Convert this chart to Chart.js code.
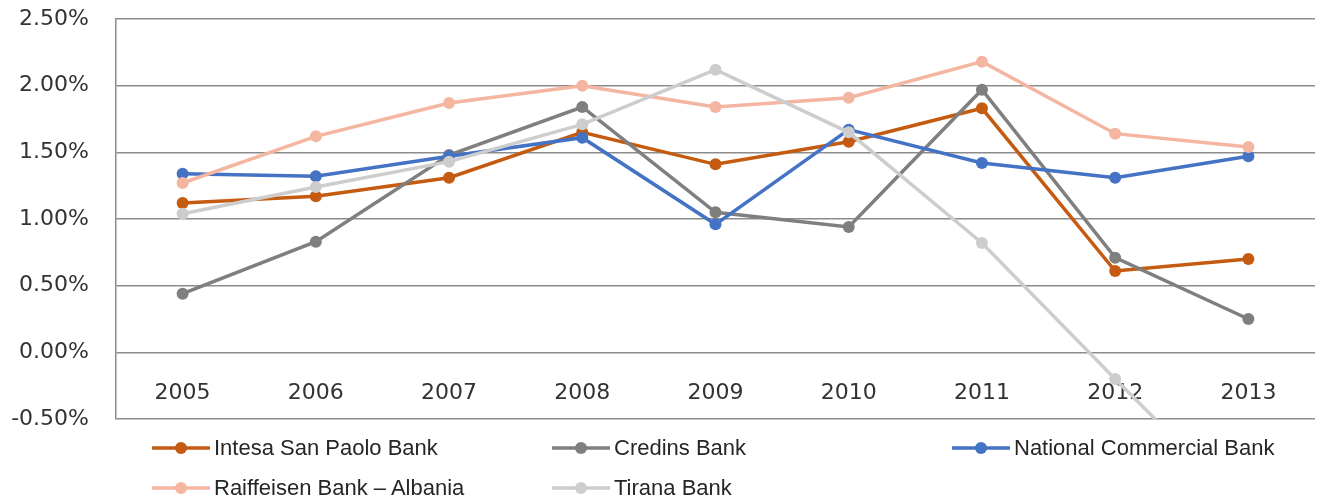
<!DOCTYPE html>
<html>
<head>
<meta charset="utf-8">
<script src="https://cdn.jsdelivr.net/npm/chart.js@4"></script>
<style>
  body { margin: 0; background: #fff; }
  #wrap { position: relative; width: 1323px; height: 502px; }
  #legend { position: absolute; left: 0; top: 0; width: 1323px; height: 502px; pointer-events: none; }
  .item { position: absolute; display: flex; align-items: center; height: 30px;
          font-family: "Liberation Sans", Arial, sans-serif;
          font-size: 22px; color: #262626; white-space: nowrap; }
  .item canvas { margin-right: 4px; }
</style>
</head>
<body>
<div id="wrap">
  <canvas id="bankChart" width="1323" height="432"></canvas>
  <div id="legend"></div>
</div>
<script>
// Return on assets by bank, 2005-2013 (%)
const years = ['2005', '2006', '2007', '2008', '2009', '2010', '2011', '2012', '2013'];
const bankNames = ['Intesa San Paolo Bank', 'Credins Bank', 'National Commercial Bank', 'Raiffeisen Bank \u2013 Albania', 'Tirana Bank'];
const intesa     = [1.12, 1.17, 1.31, 1.65, 1.41, 1.58, 1.83, 0.61, 0.70];
const credins    = [0.44, 0.83, 1.48, 1.84, 1.05, 0.94, 1.97, 0.71, 0.25];
const national   = [1.34, 1.32, 1.47, 1.61, 0.96, 1.67, 1.42, 1.31, 1.47];
const raiffeisen = [1.27, 1.62, 1.87, 2.00, 1.84, 1.91, 2.18, 1.64, 1.54];
const tirana     = [1.04, 1.24, 1.43, 1.71, 2.12, 1.65, 0.82, -0.20, -1.20];
const bankColors = ['#C55A11', '#7F7F7F', '#4472C4', '#F4B6A0', '#CDCDCD'];
const yTicks = { min: -0.5, max: 2.5, step: 0.5 };

const seriesValues = [intesa, credins, national, raiffeisen, tirana];

document.addEventListener('DOMContentLoaded', function() {
    const ctx = document.getElementById('bankChart').getContext('2d');

    const datasets = bankNames.map(function(name, i) {
        return {
            label: name,
            data: seriesValues[i],
            borderColor: bankColors[i],
            backgroundColor: bankColors[i],
            borderWidth: 3.5,
            pointRadius: 6,
            pointHoverRadius: 6,
            pointBorderWidth: 0,
            tension: 0,
            // later series sit on top, like the original
            order: bankNames.length - i
        };
    });

    new Chart(ctx, {
        type: 'line',
        data: { labels: years, datasets: datasets },
        options: {
            responsive: false,
            animation: false,
            layout: { padding: { top: 19, right: 8, bottom: 13, left: 0 } },
            plugins: { legend: { display: false }, tooltip: { enabled: false } },
            scales: {
                x: {
                    offset: true,
                    position: { y: 0 },
                    afterFit: function(scale) { scale.height = 0; },
                    grid: { display: false, drawTicks: false },
                    border: { display: false },
                    ticks: {
                        padding: 28,
                        color: '#333',
                        font: { family: 'DejaVu Sans', size: 22 },
                        maxRotation: 0
                    }
                },
                y: {
                    min: yTicks.min,
                    max: yTicks.max,
                    afterFit: function(scale) {
                        scale.width = 116;
                        // tick padding is horizontal here, don't let it push the plot down
                        scale.paddingTop = 13;
                        scale.paddingBottom = 13;
                    },
                    grid: { color: '#8c8c8c', lineWidth: 1.5, drawTicks: false },
                    border: { display: true, color: '#8c8c8c', width: 1.5 },
                    ticks: {
                        stepSize: yTicks.step,
                        padding: 27,
                        color: '#333',
                        font: { family: 'DejaVu Sans', size: 22 },
                        callback: function(v) { return v.toFixed(2) + '%'; }
                    }
                }
            }
        }
    });

    // HTML legend laid out like the original (3 columns, 2 rows)
    const legendPos = [[152, 433], [552, 433], [952, 433], [152, 473], [552, 473]];
    const legend = document.getElementById('legend');
    bankNames.forEach(function(name, i) {
        const item = document.createElement('div');
        item.className = 'item';
        item.style.left = legendPos[i][0] + 'px';
        item.style.top = legendPos[i][1] + 'px';
        const sym = document.createElement('canvas');
        sym.width = 58; sym.height = 14;
        const g = sym.getContext('2d');
        g.strokeStyle = bankColors[i];
        g.fillStyle = bankColors[i];
        g.lineWidth = 3.5;
        g.beginPath(); g.moveTo(0, 7); g.lineTo(58, 7); g.stroke();
        g.beginPath(); g.arc(29, 7, 6, 0, Math.PI * 2); g.fill();
        item.appendChild(sym);
        const txt = document.createElement('span');
        txt.textContent = name;
        item.appendChild(txt);
        legend.appendChild(item);
    });
});
</script>
</body>
</html>
